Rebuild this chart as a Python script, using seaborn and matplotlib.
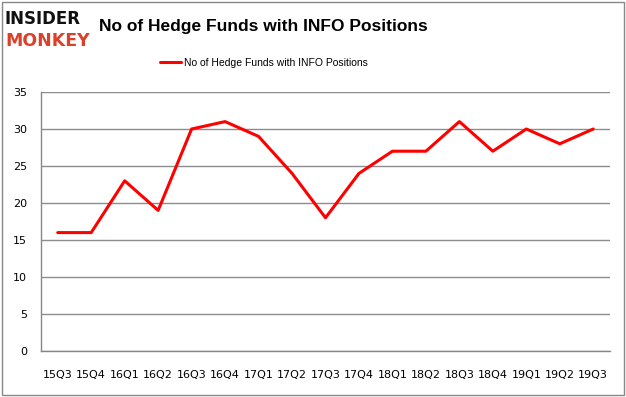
import numpy as np
import pandas as pd
import matplotlib
matplotlib.use("Agg")
import matplotlib.pyplot as plt
from matplotlib.patches import Rectangle
import seaborn as sns

quarters = ['15Q3', '15Q4', '16Q1', '16Q2', '16Q3', '16Q4', '17Q1', '17Q2', '17Q3',
            '17Q4', '18Q1', '18Q2', '18Q3', '18Q4', '19Q1', '19Q2', '19Q3']
funds = [16, 16, 23, 19, 30, 31, 29, 24, 18, 24, 27, 27, 31, 27, 30, 28, 30]
series_name = 'No of Hedge Funds with INFO Positions'

df = pd.DataFrame({'quarter': quarters, 'funds': funds})
df['pos'] = np.arange(len(df))

sns.set_style("white")
plt.rcParams['font.family'] = ['DejaVu Sans']
plt.rcParams['text.color'] = 'black'
plt.rcParams['xtick.color'] = 'black'
plt.rcParams['ytick.color'] = 'black'

fig = plt.figure(figsize=(6.26, 3.97), dpi=100)
ax = fig.add_axes([41 / 626, 1 - 351 / 397, 569 / 626, 259 / 397])

sns.lineplot(data=df, x='pos', y='funds', color='#ff0000', linewidth=2.2,
             ax=ax, label=series_name)

ax.set_ylim(0, 35)
ax.set_yticks(range(0, 36, 5))
ax.set_xlim(-0.5, len(quarters) - 0.5)
ax.set_xticks(df['pos'])
ax.set_xticklabels(quarters)
ax.set_xticks(np.arange(-0.5, len(quarters), 1), minor=True)
ax.tick_params(axis='x', which='major', length=0, pad=14, labelsize=8)
ax.tick_params(axis='x', which='minor', length=4, color='#888888', direction='out')
ax.tick_params(axis='y', length=4, color='#888888', labelsize=8, pad=6)
ax.yaxis.grid(True, color='#8c8c8c', linewidth=1)
ax.set_axisbelow(True)
ax.set_xlabel('')
ax.set_ylabel('')
for side in ['top', 'right']:
    ax.spines[side].set_visible(False)
for side in ['left', 'bottom']:
    ax.spines[side].set_color('#888888')
    ax.spines[side].set_linewidth(1)

leg = ax.legend(loc='center', bbox_to_anchor=(0.392, 1.112), frameon=False,
                handlelength=2.0, handletextpad=0.3,
                prop={'family': 'Liberation Sans', 'size': 7.5})

# title and logo
fig.text(99 / 626, 1 - 26 / 397, 'No of Hedge Funds with INFO Positions',
         fontsize=12.5, fontweight='bold', family='Liberation Sans',
         va='center', ha='left')
fig.text(5 / 626, 1 - 19 / 397, 'INSIDER', fontsize=12, fontweight='heavy',
         color='#111111', va='center', ha='left')
fig.text(5 / 626, 1 - 41 / 397, 'MONKEY', fontsize=12.5, fontweight='heavy',
         color='#d9412b', va='center', ha='left')

fig.patches.append(Rectangle((0.003, 0.004), 0.994, 0.992, transform=fig.transFigure,
                             fill=False, edgecolor='#888888', linewidth=1))

fig.savefig('out.png', dpi=100)
